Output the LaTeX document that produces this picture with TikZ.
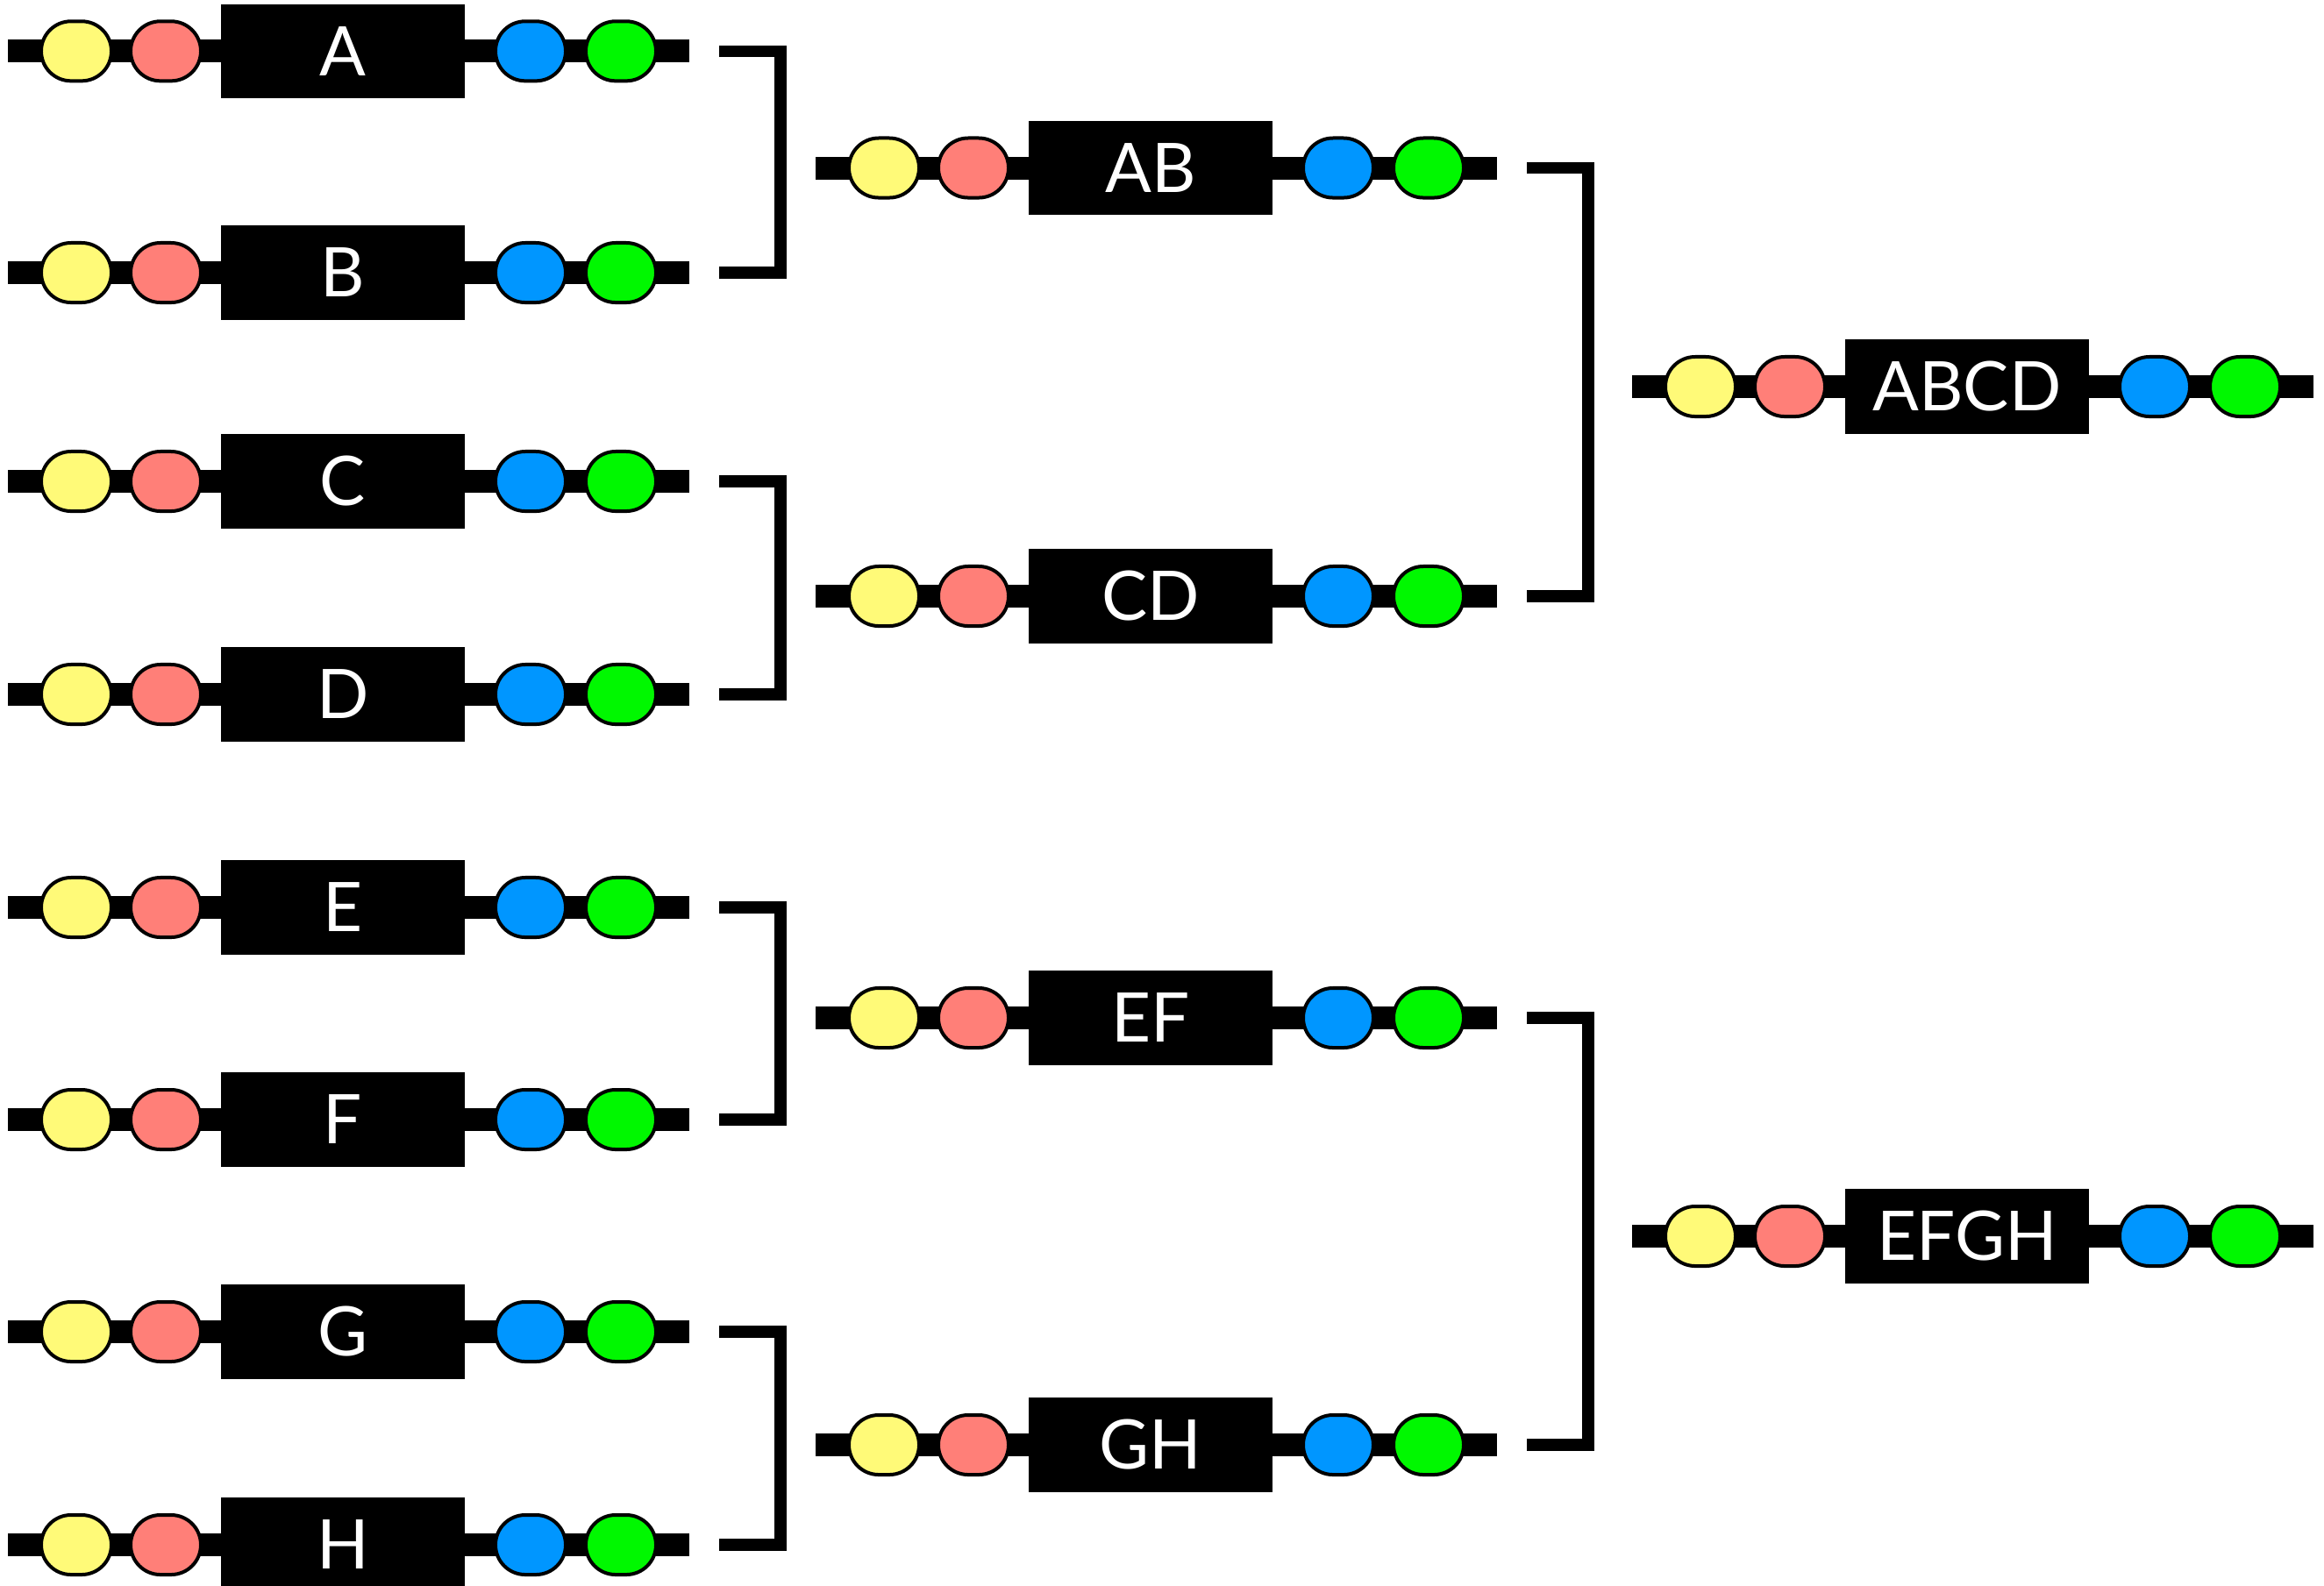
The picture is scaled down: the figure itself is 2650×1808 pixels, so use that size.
\documentclass[tikz,border=0pt]{standalone}
\usepackage{fontspec}
\setmainfont{Lato}
\usetikzlibrary{calc,shapes.misc}

\definecolor{beadyellow}{HTML}{FFFA78}
\definecolor{beadpink}{HTML}{FF7F78}
\definecolor{beadblue}{HTML}{0096FF}
\definecolor{beadgreen}{HTML}{00F800}

\tikzset{
  bar/.style={line width=0.26cm, line cap=butt, black},
  bead/.style={rounded rectangle, draw=black, line width=0.04cm,
    minimum width=0.80cm, minimum height=0.68cm, inner sep=0pt},
  core/.style={rectangle, fill=black, text=white, inner sep=0pt,
    minimum width=2.77cm, minimum height=1.07cm,
    font=\fontsize{22.2}{26}\selectfont},
  bracket/.style={line width=0.135cm, line cap=butt, line join=miter, black},
}

% one strand: a thick bar carrying two beads, a labelled block and two beads
\newcommand{\strand}[4]{%
  \coordinate (#1-c) at (#2,#3);
  \coordinate (#1-in) at ($(#1-c)+(-382,0)$);
  \coordinate (#1-out) at ($(#1-c)+(395,0)$);
  \draw[bar] (#1-in) -- (#1-out);
  \node[bead, fill=beadyellow] (#1-y) at ($(#1-c)+(-304,0)$) {};
  \node[bead, fill=beadpink] (#1-p) at ($(#1-c)+(-202,0)$) {};
  \node[core] (#1) at (#1-c) {#4};
  \node[bead, fill=beadblue] (#1-b) at ($(#1-c)+(214,0)$) {};
  \node[bead, fill=beadgreen] (#1-g) at ($(#1-c)+(317,0)$) {};
}

% bracket joining the outlets of two strands
\newcommand{\join}[2]{%
  \draw[bracket] ($(#1-out)+(34,0)$) -- ++(70,0) |- ($(#2-out)+(34,0)$);
}

\begin{document}
\begin{tikzpicture}[x=0.01cm, y=-0.01cm]
  \useasboundingbox (0,0) rectangle (2650,1808);
  \fill[white] (0,0) rectangle (2650,1808);

  % first column
  \strand{A}{391}{58.3}{A}
  \strand{B}{391}{311}{B}
  \strand{C}{391}{549}{C}
  \strand{D}{391}{792}{D}
  \strand{E}{391}{1035}{E}
  \strand{F}{391}{1277}{F}
  \strand{G}{391}{1519}{G}
  \strand{H}{391}{1762}{H}

  % second column
  \strand{AB}{1312}{191.5}{AB}
  \strand{CD}{1312}{680}{CD}
  \strand{EF}{1312}{1161}{EF}
  \strand{GH}{1312}{1648}{GH}

  % third column
  \strand{ABCD}{2243}{441}{ABCD}
  \strand{EFGH}{2243}{1410}{EFGH}

  % pairings
  \join{A}{B}
  \join{C}{D}
  \join{E}{F}
  \join{G}{H}
  \join{AB}{CD}
  \join{EF}{GH}
\end{tikzpicture}
\end{document}
